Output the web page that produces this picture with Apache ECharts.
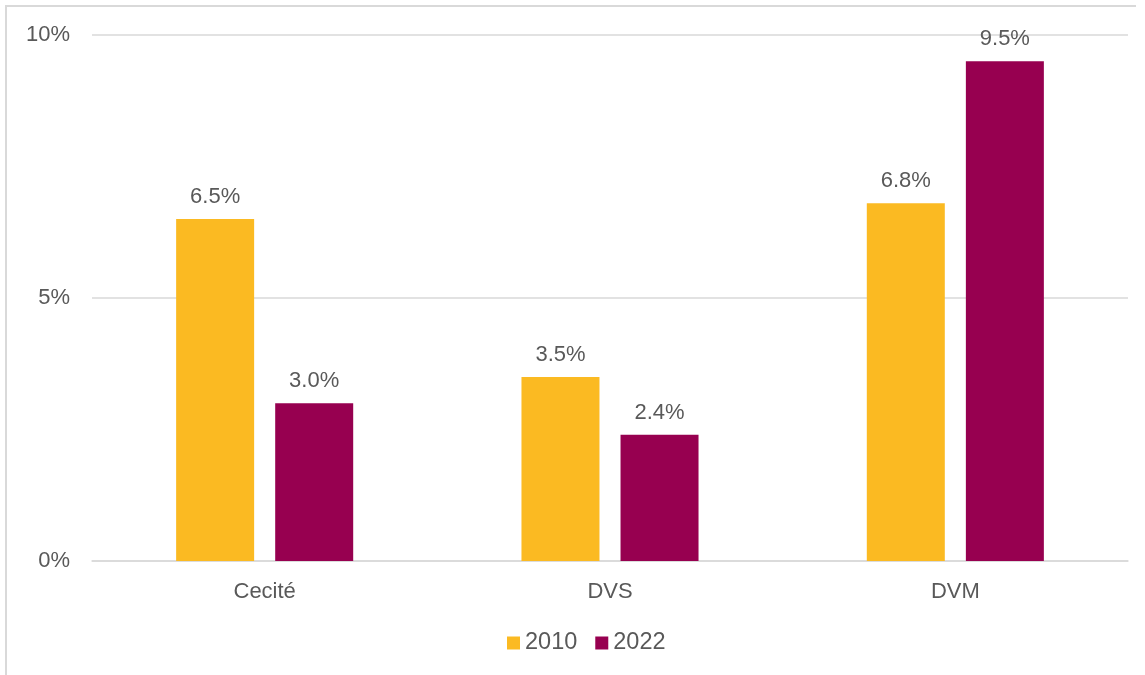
<!DOCTYPE html>
<html>
<head>
<meta charset="utf-8">
<script src="https://cdn.jsdelivr.net/npm/echarts@6/dist/echarts.min.js"></script>
<style>
  html, body { margin: 0; padding: 0; background: #fff; }
  #chart { width: 1145px; height: 675px; }
</style>
</head>
<body>
<div id="chart"></div>
<script>
// Share of the population by vision condition, 2010 vs 2022 (percent)
const categories = ['Cecité', 'DVS', 'DVM'];
const seriesNames = ['2010', '2022'];
const values2010 = [6.5, 3.5, 6.8];
const values2022 = [3.0, 2.4, 9.5];
const colors = ['#FBBA22', '#970050'];

const textColor = '#595959';
const font = '"Liberation Sans", Arial, sans-serif';
const fontSize = 22;

const chart = echarts.init(document.getElementById('chart'));

function barSeries(name, data, color) {
  return {
    name: name,
    type: 'bar',
    data: data,
    barWidth: 78,
    barGap: '27%',
    itemStyle: { color: color },
    label: {
      show: true,
      position: 'top',
      distance: 11,
      color: textColor,
      fontFamily: font,
      fontSize: fontSize,
      formatter: p => p.value.toFixed(1) + '%'
    }
  };
}

chart.setOption({
  animation: false,
  grid: { left: 92, right: 17, top: 35, bottom: 114 },
  graphic: [
    { type: 'line', shape: { x1: 5, y1: 6, x2: 1136, y2: 6 }, style: { stroke: '#d9d9d9', lineWidth: 2 } },
    { type: 'line', shape: { x1: 6, y1: 5, x2: 6, y2: 675 }, style: { stroke: '#d9d9d9', lineWidth: 2 } }
  ],
  legend: {
    data: seriesNames,
    top: 626,
    left: 502,
    itemWidth: 13,
    itemHeight: 13,
    itemGap: 18,
    icon: 'rect',
    textStyle: { color: textColor, fontFamily: font, fontSize: 23.5 }
  },
  xAxis: {
    type: 'category',
    data: categories,
    axisLine: { lineStyle: { color: '#d9d9d9', width: 1.5 } },
    axisTick: { show: false },
    axisLabel: { color: textColor, fontFamily: font, fontSize: fontSize, margin: 20 }
  },
  yAxis: {
    type: 'value',
    min: 0,
    max: 10,
    interval: 5,
    axisLine: { show: false },
    axisTick: { show: false },
    splitLine: { lineStyle: { color: '#d9d9d9', width: 1.5 } },
    axisLabel: {
      color: textColor, fontFamily: font, fontSize: fontSize, margin: 22,
      formatter: v => v + '%'
    }
  },
  series: [
    barSeries(seriesNames[0], values2010, colors[0]),
    barSeries(seriesNames[1], values2022, colors[1])
  ]
});
</script>
</body>
</html>
